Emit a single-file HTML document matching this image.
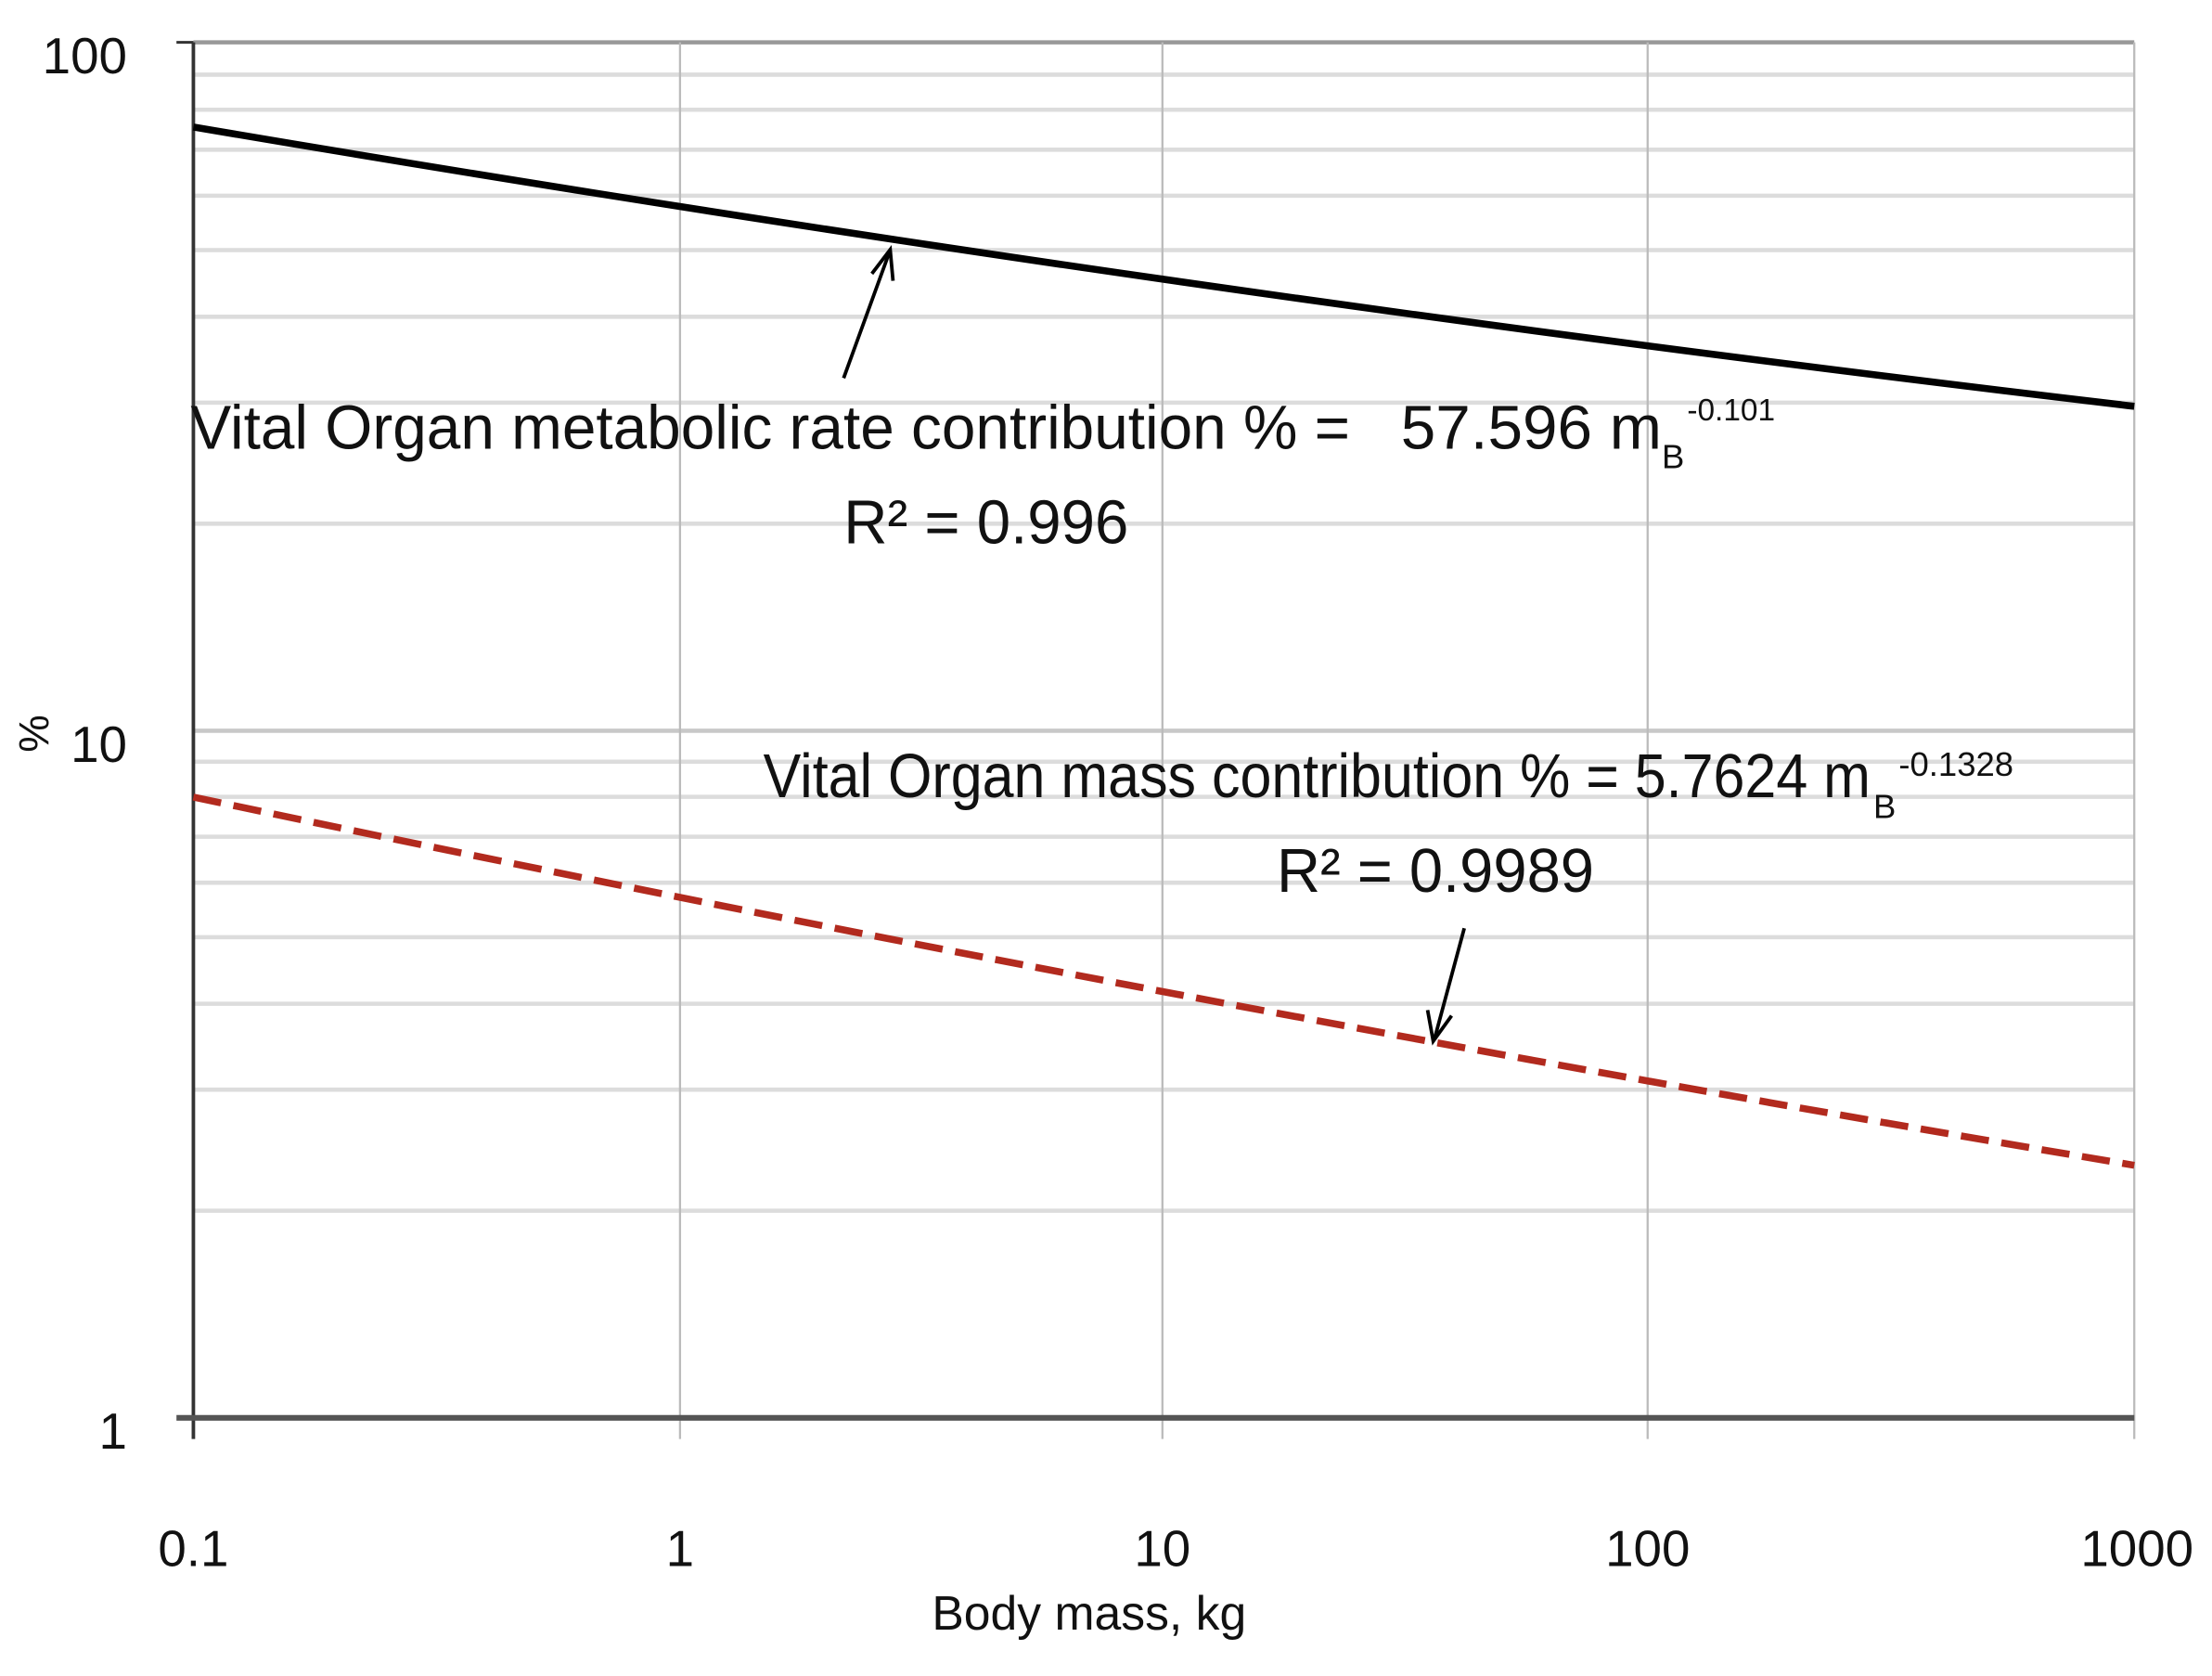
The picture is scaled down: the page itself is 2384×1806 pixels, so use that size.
<!DOCTYPE html>
<html><head><meta charset="utf-8"><style>html,body{margin:0;padding:0;background:#fff}svg{display:block}</style></head>
<body>
<svg width="2384" height="1806" viewBox="0 0 1568 1188" xmlns="http://www.w3.org/2000/svg" font-family="'Liberation Sans Narrow','Liberation Sans',sans-serif">
<rect width="1568" height="1188" fill="#fff"/>
<g stroke="#dcdcdc" stroke-width="3">
<line x1="137" x2="1513" y1="858.2" y2="858.2"/><line x1="137" x2="1513" y1="772.4" y2="772.4"/><line x1="137" x2="1513" y1="711.5" y2="711.5"/><line x1="137" x2="1513" y1="664.3" y2="664.3"/><line x1="137" x2="1513" y1="625.7" y2="625.7"/><line x1="137" x2="1513" y1="593.1" y2="593.1"/><line x1="137" x2="1513" y1="564.8" y2="564.8"/><line x1="137" x2="1513" y1="539.9" y2="539.9"/>
<line x1="137" x2="1513" y1="371.2" y2="371.2"/><line x1="137" x2="1513" y1="285.4" y2="285.4"/><line x1="137" x2="1513" y1="224.5" y2="224.5"/><line x1="137" x2="1513" y1="177.3" y2="177.3"/><line x1="137" x2="1513" y1="138.7" y2="138.7"/><line x1="137" x2="1513" y1="106.1" y2="106.1"/><line x1="137" x2="1513" y1="77.8" y2="77.8"/><line x1="137" x2="1513" y1="52.9" y2="52.9"/>
</g>
<line x1="137" x2="1513" y1="518" y2="518" stroke="#c8c8c8" stroke-width="3"/>
<line x1="137" x2="1513" y1="30" y2="30" stroke="#999" stroke-width="3"/>
<g stroke="#bbb" stroke-width="1.5">
<line x1="482" x2="482" y1="30" y2="1020"/><line x1="824" x2="824" y1="30" y2="1020"/><line x1="1168" x2="1168" y1="30" y2="1020"/><line x1="1513" x2="1513" y1="30" y2="1020"/>
</g>
<line x1="137" x2="137" y1="30" y2="1020" stroke="#333" stroke-width="2.5"/>
<line x1="125" x2="137" y1="30" y2="30" stroke="#333" stroke-width="2"/>
<line x1="125" x2="1513" y1="1005" y2="1005" stroke="#555" stroke-width="4"/>
<path d="M137,90 Q825,207 1513,288" fill="none" stroke="#000" stroke-width="5"/>
<path d="M137,565 Q825,710.5 1513,826" fill="none" stroke="#b22a1e" stroke-width="5" stroke-dasharray="20,9"/>
<g stroke="#000" stroke-width="2.5" fill="none">
<line x1="598" y1="268" x2="630" y2="180"/><polyline points="618,194 631,177 633,199"/>
<line x1="1038" y1="658" x2="1017" y2="736"/><polyline points="1012,716 1016,738 1029,720"/>
</g>
<g fill="#111" font-size="44">
<text x="135" y="318" textLength="822" lengthAdjust="spacingAndGlyphs">Vital Organ metabolic rate contribution % =</text>
<text x="993" y="318" textLength="185" lengthAdjust="spacingAndGlyphs">57.596 m</text>
<text x="1178" y="332" font-size="24">B</text>
<text x="1196" y="298" font-size="22">-0.101</text>
<text x="598" y="385" textLength="202" lengthAdjust="spacingAndGlyphs">R² = 0.996</text>
<text x="541" y="565" textLength="785" lengthAdjust="spacingAndGlyphs">Vital Organ mass contribution % = 5.7624 m</text>
<text x="1328" y="580" font-size="24">B</text>
<text x="1346" y="550" font-size="24">-0.1328</text>
<text x="905" y="632" textLength="225" lengthAdjust="spacingAndGlyphs">R² = 0.9989</text>
</g>
<g fill="#111" font-size="36" font-family="'Liberation Sans Narrow','Liberation Sans',sans-serif">
<text x="90" y="52" text-anchor="end">100</text>
<text x="90" y="540" text-anchor="end">10</text>
<text x="90" y="1027" text-anchor="end">1</text>
<text transform="translate(34,520) rotate(-90)" text-anchor="middle" font-size="30">%</text>
<text x="137" y="1110" text-anchor="middle">0.1</text>
<text x="482" y="1110" text-anchor="middle">1</text>
<text x="824" y="1110" text-anchor="middle">10</text>
<text x="1168" y="1110" text-anchor="middle">100</text>
<text x="1555" y="1110" text-anchor="end">1000</text>
<text x="772" y="1155" text-anchor="middle" font-size="34">Body mass, kg</text>
</g>
</svg>
</body></html>
